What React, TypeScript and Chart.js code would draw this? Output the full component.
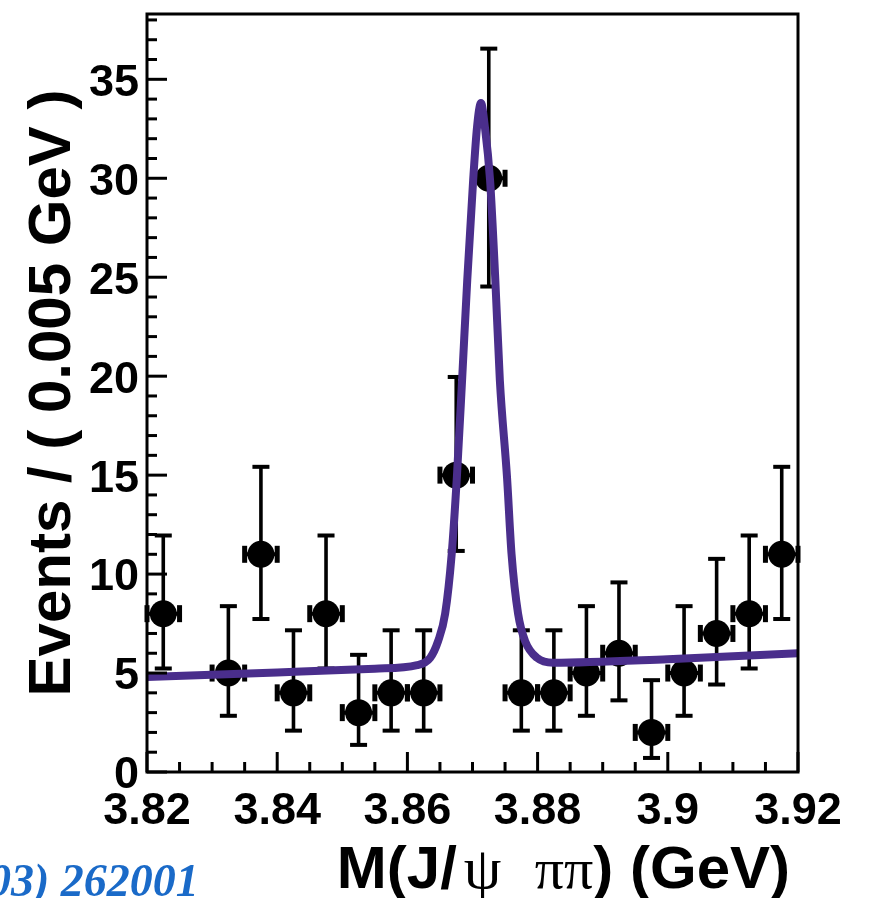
import React, { useEffect, useRef } from 'react';
import { Chart, registerables } from 'chart.js';

Chart.register(...registerables);

// ---- data ----
const binCenters = [3.8225, 3.8275, 3.8325, 3.8375, 3.8425, 3.8475, 3.8525, 3.8575, 3.8625, 3.8675, 3.8725, 3.8775, 3.8825, 3.8875, 3.8925, 3.8975, 3.9025, 3.9075, 3.9125, 3.9175];
const counts = [8, 0, 5, 11, 4, 8, 3, 4, 4, 15, 30, 4, 4, 5, 6, 2, 5, 7, 8, 11];
const errLow = [5.23, 0, 2.84, 7.73, 2.09, 5.23, 1.37, 2.09, 2.09, 11.17, 24.53, 2.09, 2.09, 2.84, 3.62, 0.71, 2.84, 4.42, 5.23, 7.73];
const errHigh = [11.95, 1.84, 8.38, 15.42, 7.16, 11.95, 5.92, 7.16, 7.16, 19.96, 36.55, 7.16, 7.16, 8.38, 9.58, 4.64, 8.38, 10.77, 11.95, 15.42];
const binWidth = 0.005;

const fitX = [3.82, 3.84, 3.855, 3.8615, 3.8635, 3.8647, 3.8658, 3.8668, 3.8676, 3.8684, 3.8692, 3.8701, 3.8707, 3.8713, 3.8719, 3.8727, 3.8735, 3.8742, 3.8753, 3.876, 3.877, 3.8781, 3.8799, 3.8824, 3.9, 3.92];
const fitY = [4.8, 5.03, 5.22, 5.4, 5.77, 6.6, 8.0, 11.0, 14.9, 19.8, 24.9, 29.9, 32.6, 33.8, 32.6, 29.9, 24.9, 19.8, 14.9, 11.0, 8.0, 6.6, 5.77, 5.52, 5.7, 6.0];

const xTickValues = [3.82, 3.84, 3.86, 3.88, 3.9, 3.92];
const xTickLabels = ['3.82', '3.84', '3.86', '3.88', '3.9', '3.92'];
const yTickValues = [0, 5, 10, 15, 20, 25, 30, 35];
const yTickLabels = ['0', '5', '10', '15', '20', '25', '30', '35'];

const X_MIN = 3.82;
const X_MAX = 3.92;
const Y_MIN = 0;
const Y_MAX = 38.3;

const yTitle = 'Events / ( 0.005 GeV )';
const citation = '03) 262001';

const SANS = '"Liberation Sans", Arial, Helvetica, sans-serif';
const SERIF = '"Liberation Serif", "Times New Roman", serif';
const FIT_COLOR = '#4a2e8c';

const decorPlugin = {
  id: 'decor',
  beforeDatasetsDraw(chart: any) {
    const { ctx, scales } = chart;
    const x = scales.x;
    const y = scales.y;
    ctx.save();
    ctx.strokeStyle = '#000';
    ctx.fillStyle = '#000';
    for (let i = 0; i < counts.length; i++) {
      if (counts[i] <= 0) continue;
      const px = x.getPixelForValue(binCenters[i]);
      const py = y.getPixelForValue(counts[i]);
      const pl = x.getPixelForValue(binCenters[i] - binWidth / 2);
      const pr = x.getPixelForValue(binCenters[i] + binWidth / 2);
      const pLo = y.getPixelForValue(errLow[i]);
      const pHi = y.getPixelForValue(errHigh[i]);
      ctx.lineWidth = 3.6;
      ctx.beginPath();
      ctx.moveTo(px, pLo);
      ctx.lineTo(px, pHi);
      ctx.stroke();
      ctx.fillRect(px - 8.5, pLo - 2, 17, 4);
      ctx.fillRect(px - 8.5, pHi - 2, 17, 4);
      ctx.lineWidth = 4;
      ctx.beginPath();
      ctx.moveTo(pl, py);
      ctx.lineTo(pr, py);
      ctx.stroke();
      ctx.fillRect(pl - 2.5, py - 8.5, 5, 17);
      ctx.fillRect(pr - 2.5, py - 8.5, 5, 17);
    }
    ctx.restore();
  },
  afterDatasetsDraw(chart: any) {
    const { ctx, chartArea: a, scales } = chart;
    const x = scales.x;
    const y = scales.y;
    ctx.save();
    ctx.strokeStyle = '#000';
    ctx.lineWidth = 3;
    ctx.lineCap = 'square';
    ctx.strokeRect(a.left, a.top, a.right - a.left, a.bottom - a.top);
    ctx.lineCap = 'butt';
    // x ticks (inside)
    const nx = Math.round((X_MAX - X_MIN) / 0.005);
    for (let k = 0; k <= nx; k++) {
      const v = X_MIN + k * 0.005;
      const p = x.getPixelForValue(v);
      const len = k % 4 === 0 ? 20 : 10;
      ctx.beginPath();
      ctx.moveTo(p, a.bottom);
      ctx.lineTo(p, a.bottom - len);
      ctx.stroke();
    }
    // y ticks (inside)
    for (let k = 0; k <= Math.floor(Y_MAX); k++) {
      const p = y.getPixelForValue(k);
      const len = k % 5 === 0 ? 20 : 10;
      ctx.beginPath();
      ctx.moveTo(a.left, p);
      ctx.lineTo(a.left + len, p);
      ctx.stroke();
    }
    ctx.restore();
  },
  afterDraw(chart: any) {
    const { ctx } = chart;
    ctx.save();
    // x-axis title with mixed fonts
    const segs = [
      { t: 'M(J/', f: `bold 60px ${SANS}` },
      { t: ' ', f: `28px ${SERIF}` },
      { t: 'ψ', f: `60px ${SERIF}` },
      { t: '  ', f: `60px ${SANS}` },
      { t: 'ππ', f: `58px ${SERIF}` },
      { t: ') (GeV)', f: `bold 60px ${SANS}` },
    ];
    let total = 0;
    for (const s of segs) {
      ctx.font = s.f;
      total += ctx.measureText(s.t).width;
    }
    let cx = 790 - total;
    ctx.fillStyle = '#000';
    ctx.textBaseline = 'alphabetic';
    ctx.textAlign = 'left';
    for (const s of segs) {
      ctx.font = s.f;
      ctx.fillText(s.t, cx, 888);
      cx += ctx.measureText(s.t).width;
    }
    // citation fragment
    ctx.font = `italic bold 46px ${SERIF}`;
    ctx.fillStyle = '#1a6ac8';
    ctx.fillText(citation, -12, 896);
    ctx.restore();
  },
};

export default function App() {
  const ref = useRef<HTMLCanvasElement | null>(null);

  useEffect(() => {
    if (!ref.current) return;
    const points = binCenters
      .map((c, i) => ({ x: c, y: counts[i] }))
      .filter((p) => p.y > 0);
    const chart = new Chart(ref.current, {
      type: 'scatter',
      data: {
        datasets: [
          {
            data: fitX.map((v, i) => ({ x: v, y: fitY[i] })),
            showLine: true,
            borderColor: FIT_COLOR,
            backgroundColor: FIT_COLOR,
            borderWidth: 8,
            pointRadius: 0,
            cubicInterpolationMode: 'monotone',
            borderJoinStyle: 'round',
            borderCapStyle: 'butt',
            fill: false,
            clip: 0,
          } as any,
          {
            data: points,
            showLine: false,
            pointRadius: 13.5,
            pointStyle: 'circle',
            backgroundColor: '#000',
            borderWidth: 0,
          } as any,
        ],
      },
      options: {
        responsive: false,
        animation: false,
        events: [],
        layout: { padding: { top: 14, right: 77, left: 0, bottom: 0 } },
        plugins: { legend: { display: false }, tooltip: { enabled: false } },
        scales: {
          x: {
            type: 'linear',
            min: X_MIN,
            max: X_MAX,
            afterBuildTicks: (s: any) => {
              s.ticks = xTickValues.map((v) => ({ value: v }));
            },
            afterFit: (s: any) => {
              s.height = 126;
              s.paddingTop = 0;
              s.paddingBottom = 0;
            },
            ticks: {
              callback: (_v: any, i: number) => xTickLabels[i],
              font: { family: SANS, weight: 'bold', size: 45 },
              color: '#000',
              padding: 13,
              maxRotation: 0,
              autoSkip: false,
            },
            grid: { display: false, drawTicks: false },
            border: { display: false },
          },
          y: {
            type: 'linear',
            min: Y_MIN,
            max: Y_MAX,
            afterBuildTicks: (s: any) => {
              s.ticks = yTickValues.map((v) => ({ value: v }));
            },
            afterFit: (s: any) => {
              s.width = 147;
              s.paddingTop = 0;
              s.paddingBottom = 0;
            },
            ticks: {
              callback: (_v: any, i: number) => yTickLabels[i],
              font: { family: SANS, weight: 'bold', size: 45 },
              color: '#000',
              padding: 8,
              labelOffset: 4,
              autoSkip: false,
            },
            title: {
              display: true,
              text: yTitle,
              color: '#000',
              font: { family: SANS, weight: 'bold', size: 60, lineHeight: 1 },
              padding: { top: 23, bottom: 0 },
            },
            grid: { display: false, drawTicks: false },
            border: { display: false },
          },
        },
      } as any,
      plugins: [decorPlugin],
    });
    return () => chart.destroy();
  }, []);

  return (
    <div style={{ position: 'absolute', left: 0, top: 0, width: 875, height: 898, background: '#fff' }}>
      <canvas ref={ref} width={875} height={898} style={{ display: 'block', width: 875, height: 898 }} />
    </div>
  );
}
